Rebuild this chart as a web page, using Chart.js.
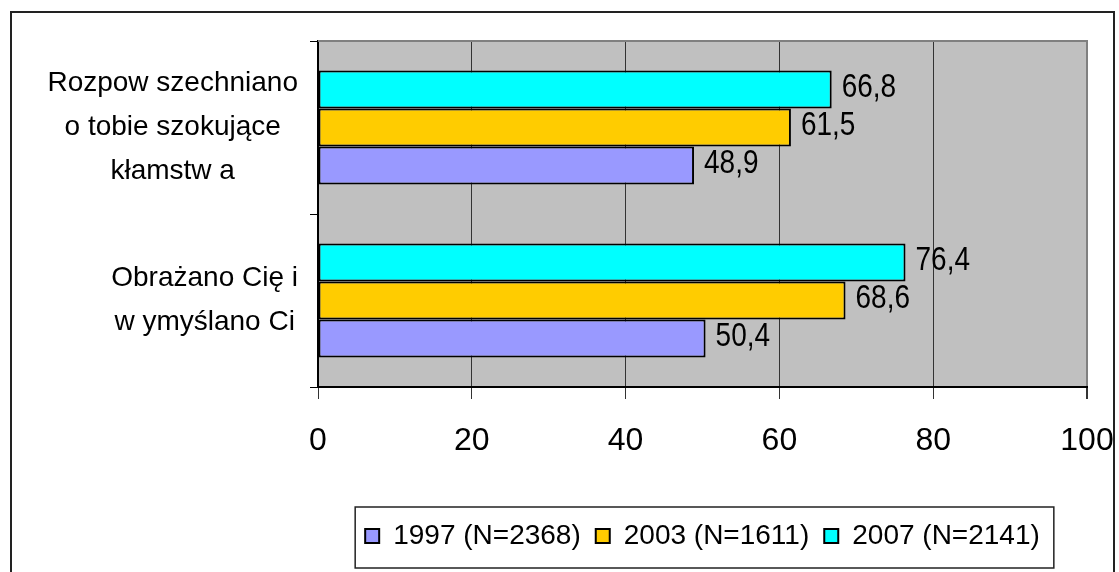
<!DOCTYPE html>
<html>
<head>
<meta charset="utf-8">
<script src="https://cdn.jsdelivr.net/npm/chart.js@4.4.0/dist/chart.umd.min.js"></script>
<style>
    html, body { margin: 0; padding: 0; background: #fff; }
    #wrap { width: 1119px; height: 572px; }
</style>
</head>
<body>
<div id="wrap"><canvas id="chartBars"></canvas></div>
<script>
// data
var categories = [
    ["Rozpow szechniano", "o tobie szokujące", "kłamstw a"],
    ["Obrażano Cię i", "w ymyślano Ci"]
];
var seriesNames = ["2007 (N=2141)", "2003 (N=1611)", "1997 (N=2368)"];
var values2007 = [66.8, 76.4];
var values2003 = [61.5, 68.6];
var values1997 = [48.9, 50.4];
var xTicks = [0, 20, 40, 60, 80, 100];

var FONT = '"Liberation Sans", Arial, sans-serif';

// grey plot area, white page
var plotBackground = {
    id: 'plotBackground',
    beforeDraw: function (chart) {
        var ctx = chart.ctx, a = chart.chartArea;
        ctx.save();
        ctx.fillStyle = '#fff';
        ctx.fillRect(0, 0, chart.width, chart.height);
        ctx.fillStyle = '#c0c0c0';
        ctx.fillRect(a.left, a.top, a.right - a.left, a.bottom - a.top);
        ctx.restore();
    },
    afterDraw: function (chart) {
        var ctx = chart.ctx, a = chart.chartArea;
        ctx.save();
        // top edge of plot
        ctx.strokeStyle = '#808080';
        ctx.lineWidth = 2;
        ctx.beginPath();
        ctx.moveTo(a.left, a.top);
        ctx.lineTo(a.right + 1, a.top);
        ctx.stroke();
        // outer frame
        ctx.strokeStyle = '#222';
        ctx.lineWidth = 2;
        ctx.strokeRect(11, 12, 1103, 620);
        // legend frame
        var boxes = chart.legend.legendHitBoxes;
        if (boxes && boxes.length) {
            var l = Infinity, r = -Infinity;
            boxes.forEach(function (b) {
                l = Math.min(l, b.left);
                r = Math.max(r, b.left + b.width);
            });
            var mid = boxes[0].top + boxes[0].height / 2;
            ctx.strokeStyle = '#222';
            ctx.lineWidth = 1.5;
            ctx.strokeRect(l - 10, mid - 29, (r - l) + 24, 61);
        }
        ctx.restore();
    }
};

// multi-line category labels: lines centred inside a right-aligned block
var labelBlocks = {
    id: 'labelBlocks',
    beforeDraw: function (chart) {
        var scale = chart.scales.y;
        var ctx = chart.ctx;
        var items = scale.getLabelItems(chart.chartArea);
        var edge = scale.right - scale.options.grid.tickLength - scale.options.ticks.padding;
        ctx.save();
        items.forEach(function (item) {
            ctx.font = item.font.string;
            var lines = [].concat(item.label);
            var w = 0;
            lines.forEach(function (s) { w = Math.max(w, ctx.measureText(s).width); });
            item.options.translation[0] = edge - w / 2;
            item.options.textAlign = 'center';
        });
        ctx.restore();
    }
};

// value labels right of each bar, with decimal comma (slightly tall glyphs like the original)
var valueLabels = {
    id: 'valueLabels',
    afterDatasetsDraw: function (chart) {
        var ctx = chart.ctx;
        chart.data.datasets.forEach(function (ds, i) {
            chart.getDatasetMeta(i).data.forEach(function (bar, j) {
                ctx.save();
                ctx.translate(bar.x + 10, bar.y - 2);
                ctx.scale(1, 1.2);
                ctx.font = '28px ' + FONT;
                ctx.fillStyle = '#000';
                ctx.textAlign = 'left';
                ctx.textBaseline = 'middle';
                ctx.fillText(ds.data[j].toFixed(1).replace('.', ','), 0, 0);
                ctx.restore();
            });
        });
    }
};

// legend centred under the plot area instead of the whole canvas
var legendPlacement = {
    id: 'legendPlacement',
    afterLayout: function (chart) {
        var lg = chart.legend, a = chart.chartArea;
        var d = (a.left + a.right) / 2 - (lg.left + lg.right) / 2;
        lg.left += d;
        lg.right += d;
    }
};

function drawChartBars() {
    var ctxChartBars = document.getElementById("chartBars");
    var chartBars = new Chart(ctxChartBars, {
        type: 'bar',
        data: {
            labels: categories,
            datasets: [{
                label: seriesNames[0],
                data: values2007,
                backgroundColor: '#00ffff'
            }, {
                label: seriesNames[1],
                data: values2003,
                backgroundColor: '#ffcc00'
            }, {
                label: seriesNames[2],
                data: values1997,
                backgroundColor: '#9999ff'
            }]
        },
        options: {
            indexAxis: 'y',
            responsive: true,
            maintainAspectRatio: false,
            animation: false,
            layout: { padding: { left: 12, right: 32, top: 41, bottom: 12 } },
            datasets: {
                bar: {
                    categoryPercentage: 0.66,
                    barPercentage: 1,
                    borderColor: '#000',
                    borderWidth: 2,
                    borderSkipped: false
                }
            },
            scales: {
                x: {
                    min: 0,
                    max: 100,
                    afterBuildTicks: function (s) {
                        s.ticks = xTicks.map(function (v) { return { value: v }; });
                    },
                    grid: {
                        color: function (c) { return c.tick && c.tick.value === 100 ? '#808080' : '#333'; },
                        lineWidth: function (c) { return c.tick && c.tick.value === 100 ? 2 : 1; },
                        tickColor: '#333',
                        tickLength: 12
                    },
                    border: { color: '#000', width: 2 },
                    ticks: { color: '#000', padding: 23, font: { family: FONT, size: 32 } },
                    afterFit: function (s) {
                        s.height = 120;
                        s.paddingLeft = 0;
                        s.paddingRight = 0;
                    }
                },
                y: {
                    grid: {
                        drawOnChartArea: false,
                        drawTicks: true,
                        tickLength: 8,
                        color: '#000',
                        offset: true
                    },
                    border: { color: '#000', width: 2 },
                    ticks: {
                        color: '#000',
                        padding: 12,
                        crossAlign: 'center',
                        font: { family: FONT, size: 28, lineHeight: '44px' }
                    },
                    afterFit: function (s) {
                        s.width = 306;
                        s.paddingTop = 0;
                        s.paddingBottom = 0;
                    }
                }
            },
            plugins: {
                legend: {
                    position: 'bottom',
                    reverse: true,
                    labels: {
                        boxWidth: 14,
                        boxHeight: 14,
                        padding: 15,
                        color: '#000',
                        font: { family: FONT, size: 28 }
                    }
                },
                tooltip: { enabled: false }
            }
        },
        plugins: [plotBackground, labelBlocks, valueLabels, legendPlacement]
    });
}

drawChartBars();
</script>
</body>
</html>
